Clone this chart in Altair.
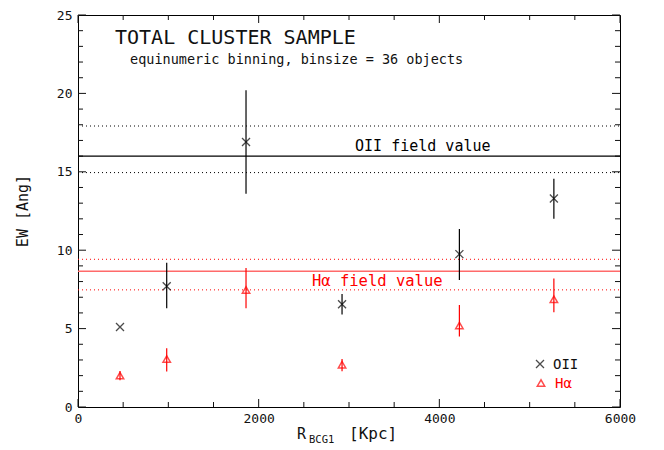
import altair as alt
import pandas as pd

# ---- data ----
r_kpc = [465, 982, 1860, 2923, 4222, 5268]
oii_ew = [5.1, 7.7, 16.9, 6.55, 9.75, 13.3]
oii_lo = [5.1, 6.3, 13.6, 5.9, 8.1, 12.0]
oii_hi = [5.1, 9.2, 20.2, 7.2, 11.35, 14.55]
ha_ew = [2.0, 3.06, 7.46, 2.7, 5.2, 6.87]
ha_lo = [1.7, 2.26, 6.3, 2.28, 4.5, 6.05]
ha_hi = [2.3, 3.75, 8.87, 3.06, 6.5, 8.2]

oii_field = 16.0
oii_field_band = [14.95, 17.92]
ha_field = 8.66
ha_field_band = [7.47, 9.42]

x_major = [0, 2000, 4000, 6000]
x_minor = [v for v in range(0, 6001, 500) if v % 2000]
y_major = [0, 5, 10, 15, 20, 25]
y_minor = [v for v in range(0, 26) if v % 5]

W, H = 542, 392
TOP = 7
FONT = "DejaVu Sans Mono"
INK = "#111111"
RED = "#ff0000"

x_scale = alt.Scale(domain=[0, 6000], nice=False, zero=True)
y_scale = alt.Scale(domain=[0, 25], nice=False, zero=True)

oii = pd.DataFrame({"r": r_kpc, "ew": oii_ew, "lo": oii_lo, "hi": oii_hi})
ha = pd.DataFrame({"r": r_kpc, "ew": ha_ew, "lo": ha_lo, "hi": ha_hi})

X = alt.X("r:Q", scale=x_scale,
          axis=alt.Axis(values=x_major, title=None, grid=False, ticks=False, domain=False,
                        labelFont=FONT, labelFontSize=13, labelColor=INK, labelPadding=5,
                        labelFlush=False, labelOverlap=False, format="d"))
Y = alt.Y("ew:Q", scale=y_scale,
          axis=alt.Axis(values=y_major, title=None, grid=False, ticks=False, domain=False,
                        labelFont=FONT, labelFontSize=13, labelColor=INK, labelPadding=6,
                        labelFlush=False, labelOverlap=False))

layers = []

# base layer carrying the axes
layers.append(alt.Chart(oii).mark_point(opacity=0).encode(x=X, y=Y))

# ticks (inward) on all four sides
def xticks(vals, L):
    d = pd.DataFrame({"t": vals})
    b = alt.Chart(d).mark_rule(color=INK, strokeWidth=1).encode(
        x=alt.X("t:Q", scale=x_scale), y=alt.value(H), y2=alt.value(H - L))
    t = alt.Chart(d).mark_rule(color=INK, strokeWidth=1).encode(
        x=alt.X("t:Q", scale=x_scale), y=alt.value(0), y2=alt.value(L))
    return [b, t]

def yticks(vals, L):
    d = pd.DataFrame({"t": vals})
    l = alt.Chart(d).mark_rule(color=INK, strokeWidth=1).encode(
        y=alt.Y("t:Q", scale=y_scale), x=alt.value(0), x2=alt.value(L))
    r = alt.Chart(d).mark_rule(color=INK, strokeWidth=1).encode(
        y=alt.Y("t:Q", scale=y_scale), x=alt.value(W), x2=alt.value(W - L))
    return [l, r]

layers += xticks(x_major, 8) + xticks(x_minor, 5) + yticks(y_major, 8) + yticks(y_minor, 5)

# field value lines
def hline(val, color, dash=None, width=1.0):
    d = pd.DataFrame({"v": [val]})
    kw = dict(color=color, strokeWidth=width)
    if dash:
        kw["strokeDash"] = dash
    return alt.Chart(d).mark_rule(**kw).encode(
        y=alt.Y("v:Q", scale=y_scale), x=alt.value(0), x2=alt.value(W))

layers.append(hline(oii_field, "#000000", width=1.2))
for v in oii_field_band:
    layers.append(hline(v, "#000000", dash=[1, 3]))
layers.append(hline(ha_field, "#ff6a6a", width=1.6))
for v in ha_field_band:
    layers.append(hline(v, RED, dash=[1, 3]))

# error bars
layers.append(alt.Chart(oii).mark_rule(color="#000000", strokeWidth=1.2).encode(
    x=alt.X("r:Q", scale=x_scale), y=alt.Y("lo:Q", scale=y_scale), y2="hi:Q"))
layers.append(alt.Chart(ha).mark_rule(color=RED, strokeWidth=1.2).encode(
    x=alt.X("r:Q", scale=x_scale), y=alt.Y("lo:Q", scale=y_scale), y2="hi:Q"))

XSHAPE = "M-1,-1L1,1M1,-1L-1,1"
layers.append(alt.Chart(oii).mark_point(shape=XSHAPE, size=64, filled=False,
                                         color="#000000", strokeWidth=1.3).encode(
    x=alt.X("r:Q", scale=x_scale), y=alt.Y("ew:Q", scale=y_scale)))
layers.append(alt.Chart(ha).mark_point(shape="triangle-up", size=55, filled=False,
                                        color=RED, strokeWidth=1.5).encode(
    x=alt.X("r:Q", scale=x_scale), y=alt.Y("ew:Q", scale=y_scale)))

# field labels
lab = pd.DataFrame({"x": [3067, 2590], "y": [oii_field, ha_field],
                    "t": ["OII field value", "H\u03b1 field value"]})
layers.append(alt.Chart(lab.iloc[[0]]).mark_text(font=FONT, fontSize=15, color="#000000",
                                                  align="left", baseline="alphabetic", dy=-5).encode(
    x=alt.X("x:Q", scale=x_scale), y=alt.Y("y:Q", scale=y_scale), text="t:N"))
layers.append(alt.Chart(lab.iloc[[1]]).mark_text(font=FONT, fontSize=15.5, color=RED,
                                                  align="left", baseline="alphabetic", dy=15).encode(
    x=alt.X("x:Q", scale=x_scale), y=alt.Y("y:Q", scale=y_scale), text="t:N"))

# free text annotations (pixel positions relative to plot area)
def ptext(txt, x, y, size, color=INK, angle=None, align="left", baseline="alphabetic"):
    kw = dict(font=FONT, fontSize=size, color=color, align=align, baseline=baseline)
    if angle is not None:
        kw["angle"] = angle
    return alt.Chart(pd.DataFrame({"t": [txt]})).mark_text(**kw).encode(
        x=alt.value(x), y=alt.value(y), text="t:N")

PY = 8 + TOP  # page y of plot top
layers.append(ptext("TOTAL CLUSTER SAMPLE", 37, 44 - PY, 20))
layers.append(ptext("equinumeric binning, binsize = 36 objects", 52, 64 - PY, 13.5))

# legend
layers.append(alt.Chart(pd.DataFrame({"a": [0]})).mark_point(
    shape=XSHAPE, size=64, filled=False, color="#000000", strokeWidth=1.3).encode(
    x=alt.value(462), y=alt.value(364 - PY)))
layers.append(ptext("OII", 475, 369 - PY, 14))
layers.append(alt.Chart(pd.DataFrame({"a": [0]})).mark_point(
    shape="triangle-up", size=55, filled=False, color=RED, strokeWidth=1.5).encode(
    x=alt.value(463), y=alt.value(383 - PY)))
layers.append(ptext("H\u03b1", 477, 388 - PY, 14, color=RED))

# axis titles
layers.append(ptext("EW [Ang]", -55, 211 - PY, 15, angle=270, align="center", baseline="middle"))
layers.append(ptext("R", 219, 439 - PY, 15))
layers.append(ptext("BCG1", 231, 443 - PY, 10.5))
layers.append(ptext("[Kpc]", 271, 439 - PY, 16))

chart = alt.layer(*layers).properties(
    width=W, height=H,
    background="white",
    autosize=alt.AutoSizeParams(type="none"),
    padding={"left": 70, "top": TOP, "right": 36, "bottom": 39},
).configure_view(stroke="#000000", strokeWidth=1)

chart.save("out.html", embed_options={"renderer": "svg", "actions": False})
